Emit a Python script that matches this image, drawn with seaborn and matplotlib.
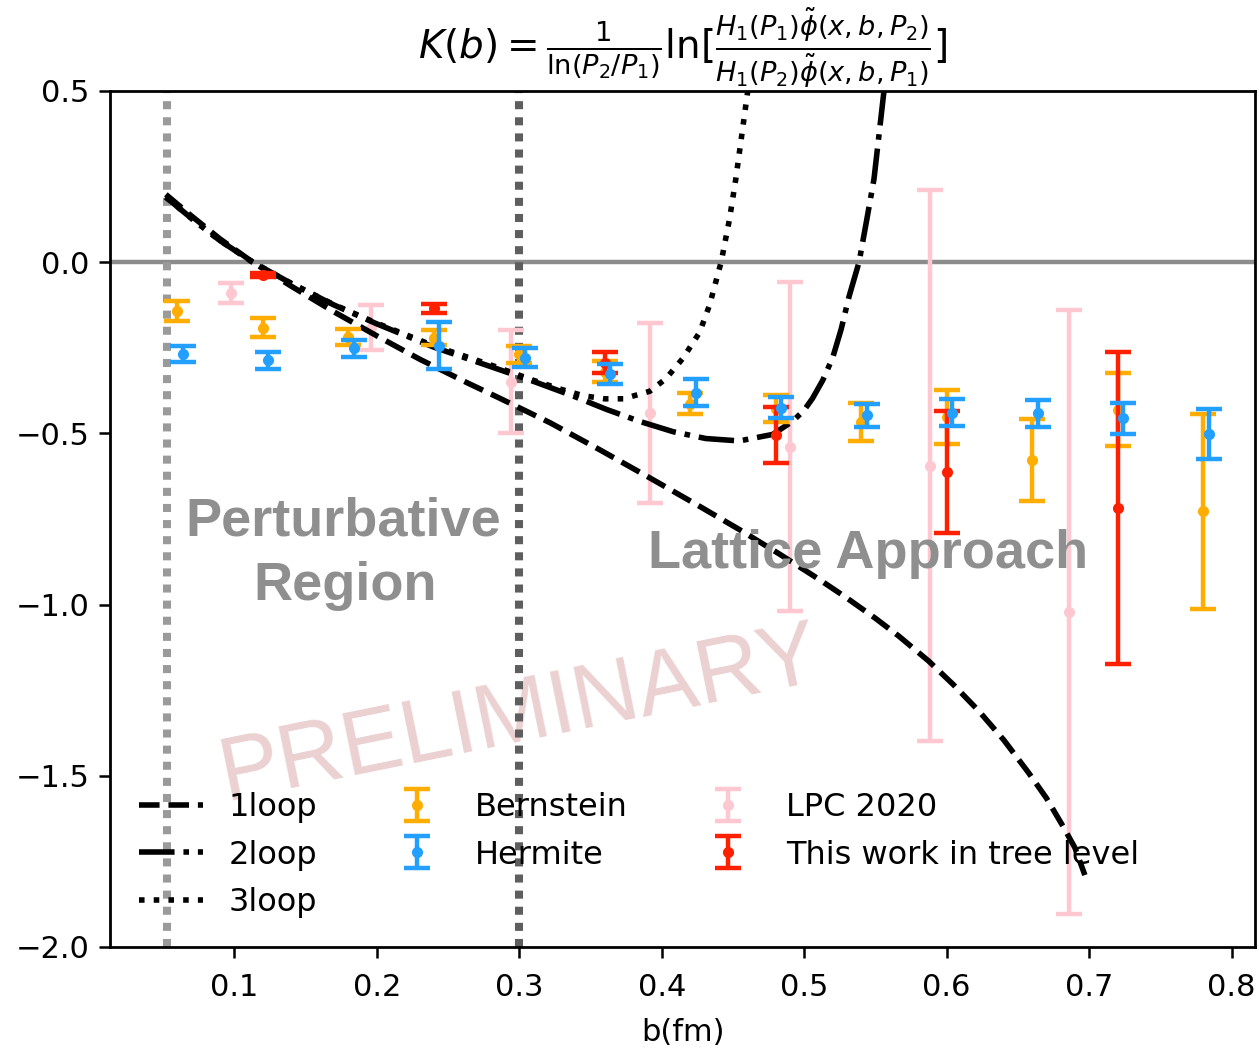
import numpy as np
import pandas as pd
import matplotlib
matplotlib.use("Agg")
import matplotlib.pyplot as plt
import seaborn as sns

# ---- perturbative Collins-Soper kernel curves (b in fm) ----
b_1loop = [0.052, 0.07, 0.09, 0.113, 0.14, 0.17, 0.20, 0.23, 0.2634, 0.2867, 0.3217,
           0.3566, 0.39, 0.4266, 0.455, 0.4825, 0.51, 0.529, 0.55, 0.5664, 0.5874,
           0.605, 0.6224, 0.64, 0.6573, 0.67, 0.6806, 0.69, 0.697]
k_1loop = [0.198, 0.135, 0.068, 0.0, -0.07, -0.145, -0.215, -0.283, -0.352, -0.398, -0.469,
           -0.548, -0.626, -0.713, -0.782, -0.852, -0.925, -0.978, -1.04, -1.092, -1.165,
           -1.235, -1.31, -1.395, -1.49, -1.565, -1.64, -1.71, -1.79]

b_2loop = [0.052, 0.07, 0.09, 0.113, 0.14, 0.17, 0.20, 0.24, 0.28, 0.31, 0.338, 0.3613,
           0.3846, 0.408, 0.431, 0.4545, 0.4778, 0.4918, 0.5, 0.5058, 0.513, 0.52, 0.526,
           0.5315, 0.5385, 0.544, 0.549, 0.556, 0.562]
k_2loop = [0.19, 0.128, 0.063, 0.0, -0.062, -0.125, -0.18, -0.248, -0.305, -0.348, -0.391,
           -0.43, -0.465, -0.495, -0.515, -0.522, -0.503, -0.465, -0.432, -0.398, -0.345,
           -0.279, -0.195, -0.10, 0.0, 0.126, 0.243, 0.5, 0.7]

b_3loop = [0.052, 0.07, 0.09, 0.113, 0.14, 0.17, 0.20, 0.24, 0.28, 0.31, 0.33, 0.345,
           0.36, 0.373, 0.3916, 0.403, 0.415, 0.4266, 0.4336, 0.4417, 0.4476, 0.452,
           0.4604, 0.465]
k_3loop = [0.19, 0.128, 0.063, 0.0, -0.062, -0.124, -0.178, -0.244, -0.300, -0.345, -0.372,
           -0.39, -0.399, -0.399, -0.377, -0.34, -0.28, -0.205, -0.125, 0.0, 0.126, 0.243,
           0.5, 0.66]

# ---- lattice results ----
b_bern = [0.06, 0.12, 0.18, 0.24, 0.30, 0.36, 0.42, 0.48, 0.54, 0.60, 0.66, 0.72, 0.78]
k_bern = [-0.143, -0.191, -0.219, -0.220, -0.269, -0.320, -0.413, -0.428, -0.467, -0.452,
          -0.577, -0.431, -0.727]
e_bern = [0.030, 0.027, 0.024, 0.022, 0.024, 0.030, 0.031, 0.039, 0.055, 0.080, 0.120,
          0.107, 0.285]

b_herm = [0.064, 0.124, 0.184, 0.244, 0.304, 0.364, 0.424, 0.484, 0.544, 0.604, 0.664,
          0.724, 0.784]
k_herm = [-0.268, -0.287, -0.252, -0.244, -0.279, -0.326, -0.381, -0.425, -0.447, -0.439,
          -0.441, -0.456, -0.502]
e_herm = [0.023, 0.026, 0.025, 0.068, 0.027, 0.030, 0.039, 0.031, 0.033, 0.040, 0.039,
          0.045, 0.072]

b_lpc = [0.098, 0.196, 0.294, 0.392, 0.490, 0.588, 0.686]
k_lpc = [-0.090, -0.191, -0.349, -0.440, -0.539, -0.594, -1.022]
e_lpc = [0.028, 0.066, 0.150, 0.262, 0.481, 0.805, 0.882]

b_tree = [0.12, 0.24, 0.36, 0.48, 0.60, 0.72]
k_tree = [-0.038, -0.135, -0.293, -0.504, -0.612, -0.717]
e_tree = [0.006, 0.012, 0.032, 0.082, 0.178, 0.456]

b_pert_edge = 0.0526
b_lat_edge = 0.30

fs = 11
plt.rcParams["font.family"] = ["DejaVu Sans"]
plt.rcParams["mathtext.fontset"] = "dejavusans"

fig = plt.figure(figsize=(1259 / 200, 1048 / 200), dpi=200)
ax = fig.add_axes([110 / 1259, 101 / 1048, 1145 / 1259, 856 / 1048])

# reference lines
ax.axhline(0.0, color="#8c8c8c", lw=1.6, zorder=1)
ax.axvline(b_pert_edge, color="#9a9a9a", lw=2.9, ls=(0, (1, 1)), zorder=1)
ax.axvline(b_lat_edge, color="#5e5e5e", lw=2.9, ls=(0, (1, 1)), zorder=1)

# perturbative curves
curves = [
    ("1loop", b_1loop, k_1loop, "--"),
    ("2loop", b_2loop, k_2loop, "-."),
    ("3loop", b_3loop, k_3loop, ":"),
]
for name, bx, ky, ls in curves:
    df = pd.DataFrame({"b": bx, "K": ky})
    sns.lineplot(data=df, x="b", y="K", ax=ax, color="black", lw=2.0,
                 linestyle=ls, estimator=None, sort=False, label=name, zorder=3)

# lattice points
eb_kw = dict(fmt=".", capsize=4.7, elinewidth=1.6, capthick=1.6, markersize=6)
h_bern = ax.errorbar(b_bern, k_bern, yerr=e_bern, color="#ffad00", label="Bernstein",
                     zorder=4, **eb_kw)
h_herm = ax.errorbar(b_herm, k_herm, yerr=e_herm, color="#229fff", label="Hermite",
                     zorder=6, **eb_kw)
h_lpc = ax.errorbar(b_lpc, k_lpc, yerr=e_lpc, color="#ffc8d0", label="LPC 2020",
                    zorder=2, **eb_kw)
h_tree = ax.errorbar(b_tree, k_tree, yerr=e_tree, color="#ff2000",
                     label="This work in tree level", zorder=5, **eb_kw)

# region annotations
region_kw = dict(color="#8f8f8f", fontsize=19.5, fontweight="bold",
                 family=["Liberation Sans", "DejaVu Sans"], ha="center", va="baseline")
ax.text(0.1764, -0.797, "Perturbative", **region_kw)
ax.text(0.1776, -0.986, "Region", **region_kw)
ax.text(0.545, -0.893, "Lattice Approach", **region_kw)

ax.text(0.3005, -1.325, "PRELIMINARY", color="#a52a2a", alpha=0.22, fontsize=32.5,
        family=["Liberation Sans", "DejaVu Sans"], rotation=11.5, rotation_mode="anchor",
        ha="center", va="center", zorder=0)

ax.set_xlim(0.0128, 0.8164)
ax.set_ylim(-2.0, 0.5)
ax.set_xticks([0.1, 0.2, 0.3, 0.4, 0.5, 0.6, 0.7, 0.8])
ax.set_yticks([0.5, 0.0, -0.5, -1.0, -1.5, -2.0])
ax.tick_params(labelsize=fs, length=4, width=0.9)
ax.tick_params(axis="x", pad=5.5)
for s in ax.spines.values():
    s.set_linewidth(1.0)
ax.set_xlabel("b(fm)", fontsize=fs, labelpad=5.5)
ax.set_ylabel("")
ax.set_title(r"$K(b)=\frac{1}{\ln(P_2/P_1)}\ln[\frac{H_1(P_1)\tilde{\phi}(x,b,P_2)}"
             r"{H_1(P_2)\tilde{\phi}(x,b,P_1)}]$", fontsize=14, pad=4)

lines = [l for l in ax.get_lines() if l.get_label() in ("1loop", "2loop", "3loop")]
handles = lines + [h_bern, h_herm, h_lpc, h_tree]
labels = ["1loop", "2loop", "3loop", "Bernstein", "Hermite", "LPC 2020",
          "This work in tree level"]
ax.legend(handles, labels, ncol=3, loc="lower left", frameon=False, fontsize=fs + 0.5,
          handlelength=2.0, columnspacing=2.15, labelspacing=0.52)

fig.savefig("out.png", dpi=200)
